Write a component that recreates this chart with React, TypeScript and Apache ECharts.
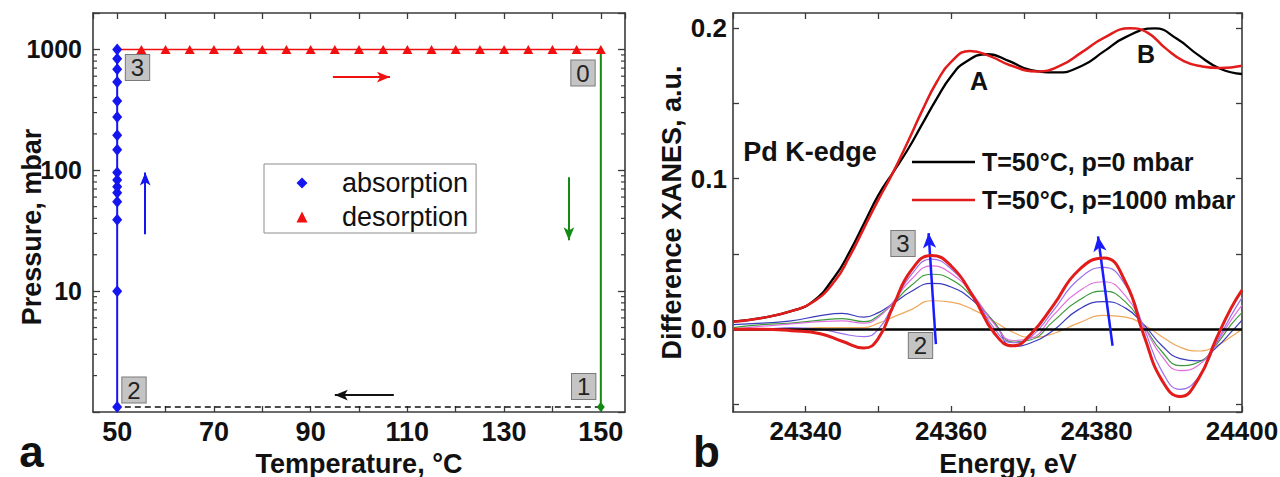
import React, { useEffect, useRef } from "react";
import * as echarts from "echarts";

// ---------------- Panel a : pressure / temperature cycle ----------------
const temperatureMin = 45;
const temperatureMax = 155;
const pressureMin = 1;
const pressureMax = 2000;
const temperatureLabels = [50, 70, 90, 110, 130, 150];
const pressureLabels = [10, 100, 1000];
const pressureMinorTicks = [2, 3, 4, 5, 6, 7, 8, 9, 20, 30, 40, 50, 60, 70, 80, 90, 200, 300, 400, 500, 600, 700, 800, 900];

const absorptionTemperature = 50;
const absorptionPressure = [1.1, 10, 39, 55, 65, 73, 83, 96, 148, 195, 276, 374, 537, 684, 837, 1000];
const desorptionTemperature = [55, 60, 65, 70, 75, 80, 85, 90, 95, 100, 105, 110, 115, 120, 125, 130, 135, 140, 145, 150];
const desorptionPressure = 1000;
const evacuationTemperature = 150;
const evacuatedPressure = 1.1;

// arrows (data coordinates)
const arrowAbsorption = [[55.8, 29.6], [55.8, 96]];
const arrowDesorption = [[94.6, 590], [106.4, 590]];
const arrowEvacuation = [[143.4, 87.5], [143.4, 26.4]];
const arrowCooling = [[107.2, 1.38], [95, 1.38]];

// ---------------- Panel b : XANES ----------------
const energyMin = 24330;
const energyMax = 24400;
const xanesMin = -0.055;
const xanesMax = 0.21;
const energyLabels = [24340, 24360, 24380, 24400];
const xanesLabels = [0, 0.1, 0.2];

const energyHydrogen = [24330, 24334, 24338, 24341, 24344, 24346, 24348, 24350, 24352, 24354, 24356, 24358, 24360, 24362.6, 24365.5, 24368, 24371.8, 24375, 24378, 24381, 24384.6, 24387, 24389.5, 24392, 24394.5, 24397, 24400];
const xanesHydrogen = [0.005, 0.0075, 0.012, 0.018, 0.032, 0.048, 0.067, 0.086, 0.104, 0.124, 0.145, 0.164, 0.1775, 0.1848, 0.181, 0.1755, 0.1712, 0.175, 0.184, 0.1935, 0.1998, 0.197, 0.1865, 0.178, 0.1745, 0.1735, 0.175];
const energyVacuum = [24330, 24334, 24338, 24341, 24344, 24346, 24348, 24350, 24352, 24354, 24356, 24358, 24360, 24362, 24365, 24368, 24371, 24374.5, 24378, 24381, 24384, 24388, 24391, 24394, 24397, 24400];
const xanesVacuum = [0.005, 0.0075, 0.012, 0.0185, 0.035, 0.051, 0.07, 0.089, 0.104, 0.119, 0.136, 0.153, 0.168, 0.1775, 0.1826, 0.178, 0.172, 0.1705, 0.175, 0.1845, 0.194, 0.1998, 0.193, 0.182, 0.173, 0.1695];

const energyDiff = [24330, 24334, 24338, 24342, 24345, 24348, 24350, 24352, 24354.5, 24357.3, 24360, 24363, 24366, 24368.5, 24371, 24374, 24377.5, 24381, 24384, 24386.5, 24389, 24391.5, 24394, 24396.5, 24398.5, 24400];
const diffFinal = [0, 0, -0.001, -0.003, -0.008, -0.0125, -0.006, 0.015, 0.039, 0.049, 0.042, 0.022, -0.003, -0.011, -0.003, 0.0155, 0.039, 0.0473, 0.031, -0.004, -0.034, -0.0447, -0.033, -0.006, 0.014, 0.026];
const diffViolet = [0, 0, 0.001, 0, -0.003, -0.005, 0, 0.016, 0.036, 0.0465, 0.04, 0.023, 0, -0.009, -0.005, 0.012, 0.033, 0.041, 0.029, 0.001, -0.028, -0.04, -0.032, -0.009, 0.009, 0.021];
const diffPink = [0, 0.002, 0.0035, 0.005, 0.0055, 0.004, 0.008, 0.018, 0.033, 0.042, 0.037, 0.023, 0.003, -0.0075, -0.006, 0.009, 0.025, 0.0315, 0.022, 0.002, -0.018, -0.0275, -0.024, -0.009, 0.006, 0.016];
const diffGreen = [0.001, 0.003, 0.004, 0.006, 0.007, 0.005, 0.009, 0.017, 0.029, 0.0365, 0.033, 0.021, 0.004, -0.0085, -0.007, 0.005, 0.019, 0.0253, 0.018, 0.002, -0.015, -0.0242, -0.022, -0.01, 0.003, 0.011];
const diffBlue = [0.003, 0.004, 0.0055, 0.009, 0.0105, 0.008, 0.011, 0.017, 0.025, 0.0304, 0.028, 0.019, 0.004, -0.0115, -0.009, -0.001, 0.013, 0.0183, 0.014, 0.003, -0.011, -0.0195, -0.021, -0.012, -0.002, 0.006];
const diffOrange = [0, 0, 0, 0.001, 0.001, 0.001, 0.004, 0.008, 0.013, 0.0189, 0.018, 0.013, 0.005, -0.002, -0.0055, -0.003, 0.004, 0.0092, 0.008, 0.003, -0.005, -0.012, -0.0145, -0.011, -0.005, 0];

const arrowsRight = [
  [[24357.9, -0.0099], [24356.9, 0.0638]],
  [[24382.2, -0.011], [24380.2, 0.0616]],
];

const legendVacuum = "T=50°C, p=0 mbar";
const legendHydrogen = "T=50°C, p=1000 mbar";

// ---------------- styles ----------------
const FONT = "Liberation Sans";
const tickLabel = (size: number) => ({ fontFamily: FONT, fontWeight: "bold", fontSize: size, lineHeight: size, color: "#111" });
const titleStyle = { fontFamily: FONT, fontWeight: "bold", fontSize: 27, lineHeight: 27, color: "#111" };
const frameLine = { show: true, onZero: false, lineStyle: { color: "#3a3a3a", width: 1.6 } };
const tick = (len: number) => ({ show: true, inside: true, length: len, lineStyle: { color: "#3a3a3a", width: 1.3 } });
const near = (v: number, list: number[]) => list.find((t) => Math.abs(v - t) < 1e-6 * Math.max(1, Math.abs(t)));

const pairs = (xs: number[], ys: number[]) => xs.map((e, i) => [e, ys[i]]);
const arrowData = (a: number[][]) => [{ coord: a[0] }, { coord: a[1] }];

const numberBox = (text: string, x: number, y: number) => ({
  type: "text",
  x,
  y,
  z: 100,
  style: {
    text,
    fontFamily: FONT,
    fontSize: 24,
    lineHeight: 24,
    fill: "#222",
    align: "center",
    verticalAlign: "middle",
    backgroundColor: "#c4c4c4",
    borderColor: "#7a7a7a",
    borderWidth: 1,
    padding: [1, 5, 0, 5],
  },
});
const label = (text: string, x: number, y: number, size: number) => ({
  type: "text",
  x,
  y,
  z: 100,
  style: { text, fontFamily: FONT, fontWeight: "bold", fontSize: size, fill: "#111", align: "center", verticalAlign: "middle" },
});

const thin = (name: string, ys: number[], color: string) => ({
  name,
  type: "line",
  xAxisIndex: 2,
  yAxisIndex: 2,
  data: pairs(energyDiff, ys),
  smooth: true,
  symbol: "none",
  lineStyle: { color, width: 1.2 },
  itemStyle: { color },
  z: 2,
});

export default function App() {
  const ref = useRef<HTMLDivElement>(null);
  useEffect(() => {
    if (!ref.current) return;
    const chart = echarts.init(ref.current, null, { renderer: "svg" });
    const option: any = {
      animation: false,
      backgroundColor: "#fff",
      textStyle: { fontFamily: FONT },
      grid: [
        { left: 93, top: 13, width: 532, height: 399, containLabel: false, outerBoundsMode: "none" },
        { left: 733, top: 13, width: 509, height: 399, containLabel: false, outerBoundsMode: "none" },
      ],
      xAxis: [
        {
          gridIndex: 0, type: "value", min: temperatureMin, max: temperatureMax, splitNumber: 11,
          axisLine: frameLine, axisTick: tick(6), splitLine: { show: false },
          axisLabel: { ...tickLabel(27), margin: 6, showMinLabel: false, showMaxLabel: false,
            formatter: (v: number) => { const t = near(v, temperatureLabels); return t === undefined ? "" : String(t); } },
          name: "Temperature, °C", nameLocation: "middle", nameGap: 38, nameMoveOverlap: false, nameTextStyle: titleStyle,
        },
        {
          gridIndex: 0, type: "value", position: "top", min: temperatureMin, max: temperatureMax, splitNumber: 11,
          axisLine: frameLine, axisTick: tick(6), splitLine: { show: false }, axisLabel: { show: false },
        },
        {
          gridIndex: 1, type: "value", min: energyMin, max: energyMax, interval: 10,
          axisLine: frameLine, axisTick: tick(6), splitLine: { show: false },
          axisLabel: { ...tickLabel(26), margin: 6, showMaxLabel: true,
            formatter: (v: number) => { const t = near(v, energyLabels); return t === undefined ? "" : String(t); } },
          name: "Energy, eV", nameLocation: "middle", nameGap: 38, nameMoveOverlap: false,
          nameTextStyle: { ...titleStyle, padding: [0, 0, 0, 41] },
        },
        {
          gridIndex: 1, type: "value", position: "top", min: energyMin, max: energyMax, interval: 10,
          axisLine: frameLine, axisTick: tick(6), splitLine: { show: false }, axisLabel: { show: false },
        },
      ],
      yAxis: [
        {
          gridIndex: 0, type: "log", logBase: 10, min: pressureMin, max: pressureMax,
          axisLine: frameLine, axisTick: tick(7), splitLine: { show: false },
          axisLabel: { ...tickLabel(25), margin: 11,
            formatter: (v: number) => { const t = near(v, pressureLabels); return t === undefined ? "" : String(t); } },
          name: "Pressure, mbar", nameLocation: "middle", nameGap: 48, nameMoveOverlap: false,
          nameTextStyle: { ...titleStyle, padding: [0, 29, 0, 0] },
        },
        {
          gridIndex: 0, type: "log", logBase: 10, position: "right", min: pressureMin, max: pressureMax,
          axisLine: frameLine, axisTick: tick(7), splitLine: { show: false }, axisLabel: { show: false },
        },
        {
          gridIndex: 1, type: "value", min: xanesMin, max: xanesMax, splitNumber: 5,
          axisLine: frameLine, axisTick: tick(6), splitLine: { show: false },
          axisLabel: { ...tickLabel(26), margin: 6, showMinLabel: false, showMaxLabel: false,
            formatter: (v: number) => { const t = near(v, xanesLabels); return t === undefined ? "" : t.toFixed(1); } },
          name: "Difference XANES, a.u.", nameLocation: "middle", nameGap: 48, nameMoveOverlap: false, nameTextStyle: titleStyle,
        },
        {
          gridIndex: 1, type: "value", position: "right", min: xanesMin, max: xanesMax, splitNumber: 5,
          axisLine: frameLine, axisTick: tick(6), splitLine: { show: false }, axisLabel: { show: false },
        },
      ],
      legend: [
        {
          orient: "vertical", left: 264, top: 164, selectedMode: false,
          data: [{ name: "absorption", icon: "diamond" }, { name: "desorption", icon: "triangle" }],
          itemWidth: 11, itemHeight: 11, itemGap: 7,
          padding: [5.5, 8, 2.5, 32.5],
          borderColor: "#8c8c8c", borderWidth: 1,
          textStyle: { fontFamily: FONT, fontSize: 27, lineHeight: 27, color: "#111", padding: [0, 0, 0, 29.5] },
        },
        {
          orient: "vertical", left: 912, top: 149.5, selectedMode: false,
          data: [{ name: legendVacuum, icon: "rect" }, { name: legendHydrogen, icon: "rect" }],
          itemWidth: 63, itemHeight: 2.5, itemGap: 13, padding: 0,
          textStyle: { fontFamily: FONT, fontWeight: "bold", fontSize: 25, lineHeight: 25, color: "#111", padding: [0, 0, 0, 2] },
        },
      ],
      graphic: [
        numberBox("3", 137.5, 67.5),
        numberBox("0", 583, 73),
        numberBox("2", 134, 390),
        numberBox("1", 583.7, 386.5),
        numberBox("3", 903, 243.5),
        numberBox("2", 920.5, 345.5),
        label("Pd K-edge", 810, 152, 27),
        label("A", 979, 81, 25),
        label("B", 1146, 54, 25),
        label("a", 31.5, 451, 44),
        label("b", 706.5, 451, 44),
      ],
      series: [
        {
          type: "custom", xAxisIndex: 0, yAxisIndex: 0, silent: true, clip: false,
          data: pressureMinorTicks.map((p) => [temperatureMin, p]),
          renderItem: (_params: any, api: any) => {
            const p = api.value(1);
            const l = api.coord([temperatureMin, p]);
            const r = api.coord([temperatureMax, p]);
            const st = { stroke: "#3a3a3a", lineWidth: 1.2 };
            return {
              type: "group",
              children: [
                { type: "line", shape: { x1: l[0], y1: l[1], x2: l[0] + 4, y2: l[1] }, style: st },
                { type: "line", shape: { x1: r[0] - 4, y1: r[1], x2: r[0], y2: r[1] }, style: st },
              ],
            };
          },
        },
        {
          name: "cooling", type: "line", xAxisIndex: 0, yAxisIndex: 0,
          data: [[evacuationTemperature, evacuatedPressure], [absorptionTemperature, evacuatedPressure]],
          symbol: "none", lineStyle: { color: "#111", width: 1.6, type: [6, 4] },
          markLine: { silent: true, symbol: ["none", "arrow"], symbolSize: [8, 13], label: { show: false },
            lineStyle: { color: "#111", width: 2, type: "solid" }, data: [arrowData(arrowCooling)] },
        },
        {
          name: "evacuation", type: "line", xAxisIndex: 0, yAxisIndex: 0,
          data: [{ value: [evacuationTemperature, desorptionPressure], symbol: "none" }, [evacuationTemperature, evacuatedPressure]],
          symbol: "diamond", symbolSize: [8, 10], itemStyle: { color: "#138a13" },
          lineStyle: { color: "#138a13", width: 2 },
          markLine: { silent: true, symbol: ["none", "arrow"], symbolSize: [8, 13], label: { show: false },
            lineStyle: { color: "#138a13", width: 2, type: "solid" }, data: [arrowData(arrowEvacuation)] },
        },
        {
          name: "desorption", type: "line", xAxisIndex: 0, yAxisIndex: 0,
          data: [{ value: [absorptionTemperature, desorptionPressure], symbol: "none" }, ...desorptionTemperature.map((t) => [t, desorptionPressure])],
          symbol: "triangle", symbolSize: [10, 9], itemStyle: { color: "#f01010" },
          lineStyle: { color: "#f01010", width: 1.5 },
          markLine: { silent: true, symbol: ["none", "arrow"], symbolSize: [8, 13], label: { show: false },
            lineStyle: { color: "#f01010", width: 2, type: "solid" }, data: [arrowData(arrowDesorption)] },
        },
        {
          name: "absorption", type: "line", xAxisIndex: 0, yAxisIndex: 0,
          data: absorptionPressure.map((p) => [absorptionTemperature, p]),
          symbol: "diamond", symbolSize: [10, 12], itemStyle: { color: "#1515f0" },
          lineStyle: { color: "#1515f0", width: 2 },
          markLine: { silent: true, symbol: ["none", "arrow"], symbolSize: [8, 13], label: { show: false },
            lineStyle: { color: "#1515f0", width: 2, type: "solid" }, data: [arrowData(arrowAbsorption)] },
        },
        thin("orange", diffOrange, "#eea85a"),
        thin("blue", diffBlue, "#3b3bbd"),
        thin("green", diffGreen, "#3a9a3a"),
        thin("pink", diffPink, "#e070e0"),
        {
          ...thin("violet", diffViolet, "#9a70ee"),
          markLine: { silent: true, symbol: ["none", "none"], label: { show: false },
            lineStyle: { color: "#000", width: 2.5, type: "solid" }, data: [{ yAxis: 0 }] },
        },
        {
          name: legendVacuum, type: "line", xAxisIndex: 2, yAxisIndex: 2, data: pairs(energyVacuum, xanesVacuum),
          smooth: true, symbol: "none", lineStyle: { color: "#000", width: 2.3 }, itemStyle: { color: "#000" }, z: 3,
        },
        {
          name: legendHydrogen, type: "line", xAxisIndex: 2, yAxisIndex: 2, data: pairs(energyHydrogen, xanesHydrogen),
          smooth: true, symbol: "none", lineStyle: { color: "#e21b1b", width: 2.5 }, itemStyle: { color: "#e21b1b" }, z: 4,
        },
        {
          name: "final", type: "line", xAxisIndex: 2, yAxisIndex: 2, data: pairs(energyDiff, diffFinal),
          smooth: true, symbol: "none", lineStyle: { color: "#e21b1b", width: 3 }, itemStyle: { color: "#e21b1b" }, z: 5,
          markLine: { silent: true, symbol: ["none", "arrow"], symbolSize: [10, 15], label: { show: false },
            lineStyle: { color: "#1a1aff", width: 2.5, type: "solid" }, data: arrowsRight.map(arrowData) },
        },
      ],
    };
    chart.setOption(option);
    return () => chart.dispose();
  }, []);
  return <div ref={ref} style={{ position: "fixed", left: 0, top: 0, width: 1280, height: 477, background: "#fff" }} />;
}
